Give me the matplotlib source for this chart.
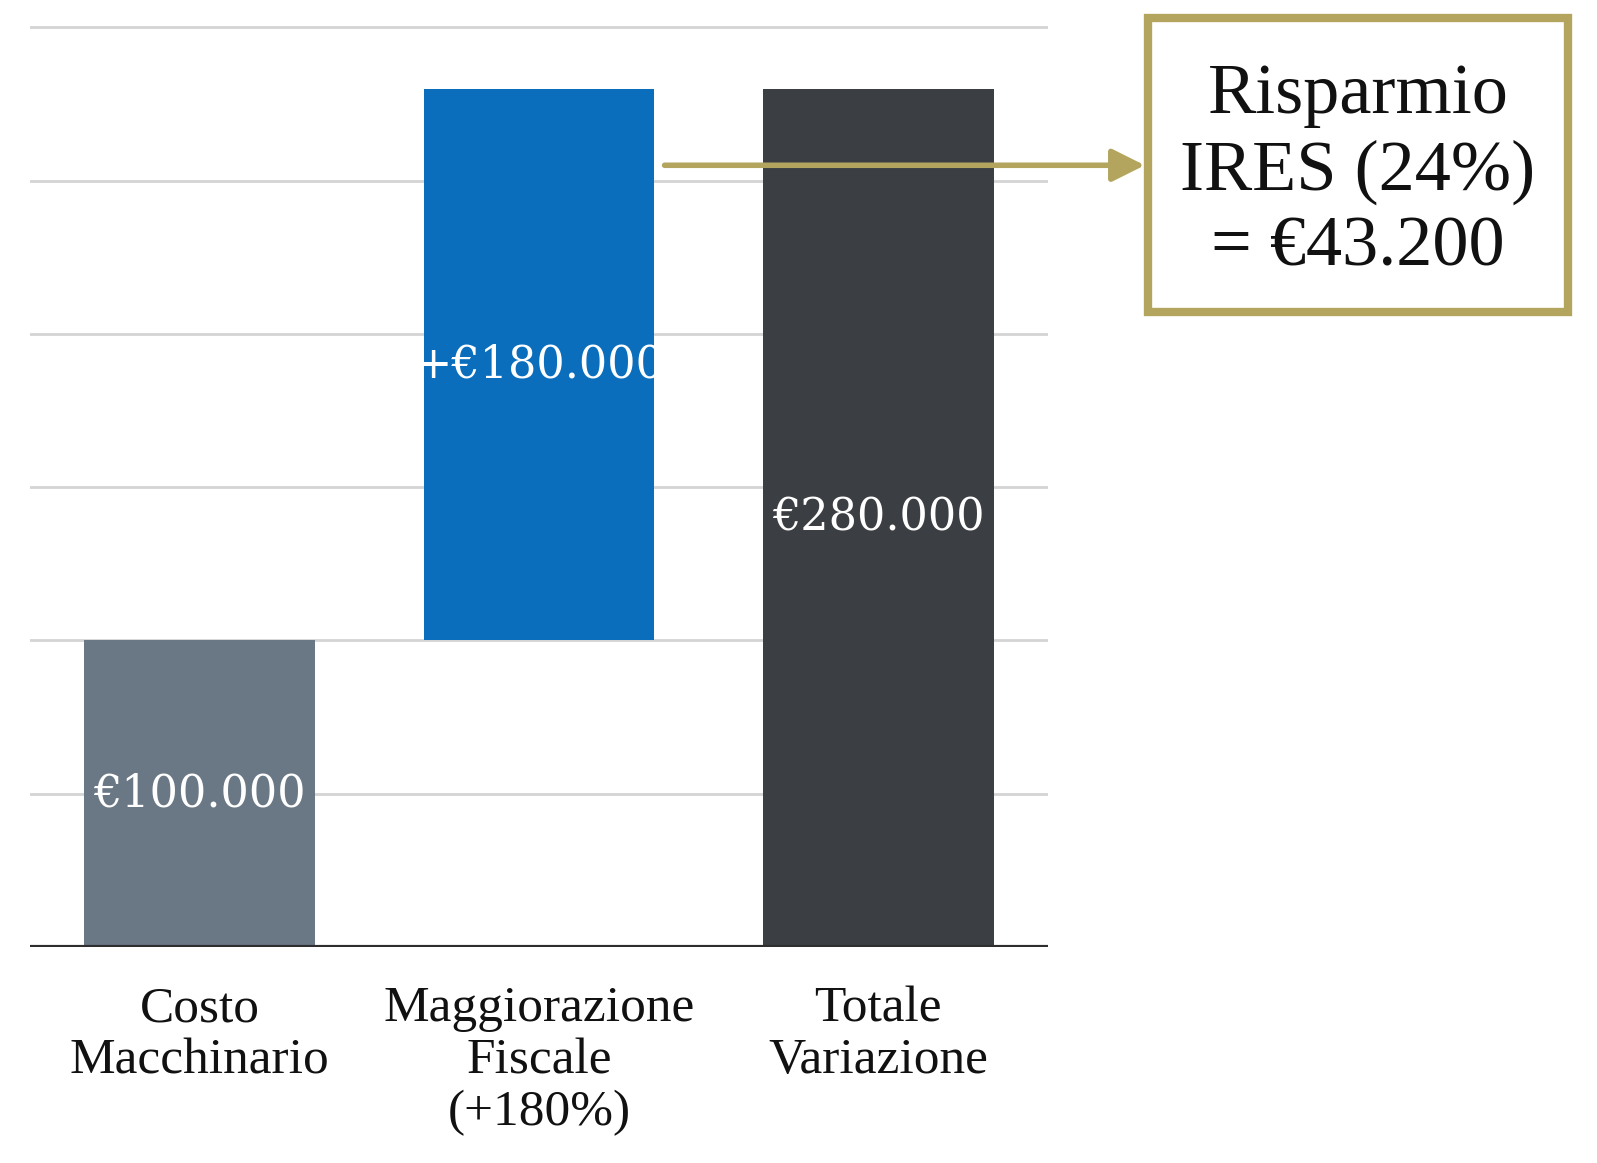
import matplotlib
matplotlib.use("Agg")
import matplotlib.pyplot as plt
from matplotlib.patches import Rectangle

# Data
categories = ["Costo\nMacchinario", "Maggiorazione\nFiscale\n(+180%)", "Totale\nVariazione"]
bar_bottoms = [0, 100000, 0]
bar_heights = [100000, 180000, 280000]
value_labels = ["€100.000", "+€180.000", "€280.000"]
grid_values = [50000, 100000, 150000, 200000, 250000, 300000]
arrow_level = 255000
callout_text = "Risparmio\nIRES (24%)\n= €43.200"

colors = ["#6a7886", "#0a6ebd", "#3b3e42"]
gold = "#b3a55e"

fig = plt.figure(figsize=(15.97, 11.63), dpi=100)
ax = fig.add_axes([30 / 1597, 1 - 947 / 1163, 1018 / 1597, 935 / 1163])

x = range(len(categories))
ax.bar(x, bar_heights, bottom=bar_bottoms, width=0.68, color=colors, zorder=2)

for g in grid_values:
    ax.axhline(g, color="#d4d4d4", lw=2, zorder=1)
ax.axhline(0, color="#2e2e2e", lw=3, zorder=3)

for i, (b, h, lab) in enumerate(zip(bar_bottoms, bar_heights, value_labels)):
    ax.text(i, b + h / 2, lab, ha="center", va="center", color="white",
            fontsize=32, family="DejaVu Serif", zorder=4)

ax.set_xlim(-0.5, 2.5)
ax.set_ylim(0, 305000)
ax.set_yticks([])
ax.set_xticks(list(x))
ax.set_xticklabels(categories, fontsize=37, family="Liberation Serif",
                   linespacing=1.15, color="#111111")
ax.tick_params(axis="x", length=0, pad=28)
for s in ax.spines.values():
    s.set_visible(False)

# callout box
box_left, box_right = 1148 / 1597, 1568 / 1597
box_bottom, box_top = 1 - 312 / 1163, 1 - 18 / 1163
fig.patches.append(Rectangle((box_left, box_bottom), box_right - box_left,
                             box_top - box_bottom, transform=fig.transFigure,
                             facecolor="white", edgecolor=gold, lw=6, zorder=5))
fig.text((box_left + box_right) / 2, (box_bottom + box_top) / 2 - 0.006, callout_text,
         ha="center", va="center", fontsize=52, family="Liberation Serif",
         linespacing=1.22, color="#111111", zorder=6)

ax.annotate("", xy=(box_left - 0.002, arrow_level), xycoords=("figure fraction", "data"),
            xytext=(1.37, arrow_level), textcoords="data",
            arrowprops=dict(arrowstyle="-|>", color=gold, lw=4, mutation_scale=50,
                            shrinkA=0, shrinkB=0),
            annotation_clip=False, zorder=5)

fig.savefig("out.png", dpi=100, facecolor="white")
